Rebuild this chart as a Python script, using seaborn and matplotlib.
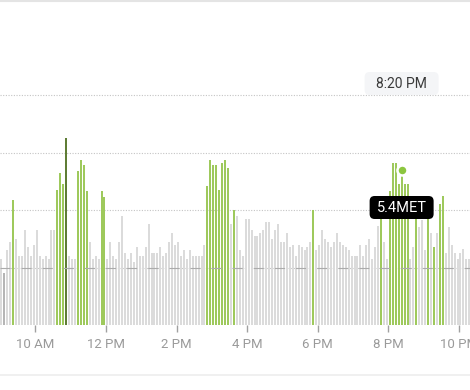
import matplotlib
matplotlib.use("Agg")
import matplotlib.pyplot as plt
import numpy as np
import pandas as pd
import seaborn as sns
from matplotlib.lines import Line2D
from matplotlib.patches import FancyBboxPatch
from matplotlib.transforms import IdentityTransform

# 5分ごとのMET（9:00 AM から）
met = [
    2.3, 1.8, 2.6, 2.9, 4.35, 3.0, 2.4, 2.4, 3.3, 2.7,
    2.4, 2.8, 3.3, 2.4, 2.3, 2.4, 2.3, 3.3, 3.3, 4.7,
    5.3, 4.9, 6.5, 2.4, 2.3, 2.3, 5.35, 5.75, 5.55, 4.65,
    2.9, 2.3, 2.4, 2.3, 4.65, 4.45, 2.3, 2.9, 2.4, 2.3,
    2.9, 3.8, 2.5, 2.3, 2.5, 2.2, 2.7, 2.4, 2.4, 2.7,
    3.5, 2.5, 2.5, 2.5, 2.7, 2.4, 2.5, 2.9, 3.2, 2.8,
    2.9, 2.4, 2.6, 2.3, 2.6, 2.4, 2.4, 2.4, 2.4, 2.8,
    4.85, 5.75, 5.55, 5.55, 4.7, 5.65, 5.75, 5.45, 3.5, 4.0,
    3.8, 2.6, 2.4, 3.7, 3.7, 3.3, 3.1, 3.1, 3.2, 3.3,
    3.6, 3.6, 3.0, 3.3, 3.5, 2.9, 2.9, 3.2, 2.7, 2.8,
    2.4, 2.8, 2.7, 2.6, 2.7, 2.9, 4.0, 2.6, 2.8, 3.3,
    3.0, 2.9, 2.7, 2.9, 3.2, 2.9, 2.8, 2.7, 2.6, 2.4,
    2.4, 2.4, 2.8, 2.4, 2.8, 3.0, 2.3, 2.7, 3.45, 4.0,
    2.9, 2.3, 4.65, 5.65, 5.65, 4.9, 5.4, 4.9, 4.9, 2.3,
    2.7, 3.9, 3.4, 3.65, 2.6, 3.9, 3.2, 2.7, 3.2, 4.2,
    4.5, 2.5, 3.4, 2.8, 2.5, 2.3, 2.5, 2.65, 2.3, 2.3,
]
active_bars = [4, 19, 20, 21, 26, 27, 28, 29, 34, 35,
               70, 71, 72, 73, 74, 75, 76, 77, 79, 106,
               129, 132, 133, 134, 135, 136, 137, 138, 141, 145,
               147, 149, 150]
dark_active_bars = [22]
dark_rest_bars = [1]
hover_bar = 136
hover_time = "8:20 PM"
hover_label = "5.4MET"

tick_minutes = [60, 180, 300, 420, 540, 660, 780]
tick_labels = ["10 AM", "12 PM", "2 PM", "4 PM", "6 PM", "8 PM", "10 PM"]
grid_levels = [2, 4, 6, 8]

palette = {
    "rest": "#dbdbdb",
    "rest_dark": "#b5b5b5",
    "active": "#9ec95c",
    "active_dark": "#5f7d35",
}

state = []
for i in range(len(met)):
    if i in dark_active_bars:
        state.append("active_dark")
    elif i in dark_rest_bars:
        state.append("rest_dark")
    elif i in active_bars:
        state.append("active")
    else:
        state.append("rest")

df = pd.DataFrame({
    "minute": np.arange(len(met)) * 5 + 2.5,
    "met": met,
    "state": state,
})

sns.set_theme(style="white")
plt.rcParams["font.family"] = ["Roboto", "DejaVu Sans"]

fig = plt.figure(figsize=(4.7, 3.9), dpi=100)
ax = fig.add_axes([0, 65 / 390, 1, 325 / 390])

for lv in grid_levels:
    ax.axhline(lv, color="#c4c4c4", linewidth=0.8, linestyle=(0, (1, 1.4)), zorder=0)

sns.barplot(
    data=df, x="minute", y="met", hue="state", palette=palette,
    native_scale=True, width=0.68, dodge=False, legend=False,
    errorbar=None, saturation=1, linewidth=0, ax=ax, zorder=2,
)

# 2 METの線はバーの上に重なる
ax.axhline(grid_levels[0], color="#ababab", linewidth=0.8, linestyle=(0, (9, 10)), zorder=3)

ax.set_xlim(0, 798.7)
ax.set_ylim(0, 325 / 28.75)
ax.set_xlabel("")
ax.set_ylabel("")
ax.set_yticks([])
ax.set_xticks(tick_minutes)
ax.set_xticklabels(tick_labels)
ax.tick_params(axis="x", length=5, width=1, color="#a0a0a0", pad=4,
               labelsize=9.5, labelcolor="#9a9a9a", bottom=True)
for s in ax.spines.values():
    s.set_visible(False)

# ホバー中のバーと吹き出し
hx = df["minute"].iloc[hover_bar]
hy = df["met"].iloc[hover_bar]
ax.scatter([hx], [hy], s=52, color="#8cc63f", edgecolor="white", linewidth=1.8, zorder=5)

fig.canvas.draw()
px, _ = ax.transData.transform((hx, hy))

time_box = FancyBboxPatch((px - 37, 390 - 95), 74, 23, boxstyle="round,pad=0,rounding_size=5",
                          facecolor="#f4f5f7", edgecolor="none", transform=IdentityTransform(), zorder=6)
fig.add_artist(time_box)
fig.text(px / 470, (390 - 83.5) / 390, hover_time, ha="center", va="center",
         fontsize=10, color="#3a3a3a", zorder=7)

met_box = FancyBboxPatch((px - 32, 390 - 219), 64, 23, boxstyle="round,pad=0,rounding_size=5",
                         facecolor="black", edgecolor="none", transform=IdentityTransform(), zorder=6)
fig.add_artist(met_box)
fig.text(px / 470, (390 - 207.5) / 390, hover_label, ha="center", va="center",
         fontsize=10.5, color="white", zorder=7)

fig.add_artist(Line2D([0, 1], [1 - 0.5 / 390, 1 - 0.5 / 390], transform=fig.transFigure,
                      color="#e4e4e4", linewidth=1.5))
fig.add_artist(Line2D([0, 1], [1 - 375 / 390, 1 - 375 / 390], transform=fig.transFigure,
                      color="#eeeeee", linewidth=1.2))

fig.savefig("out.png", dpi=100)
